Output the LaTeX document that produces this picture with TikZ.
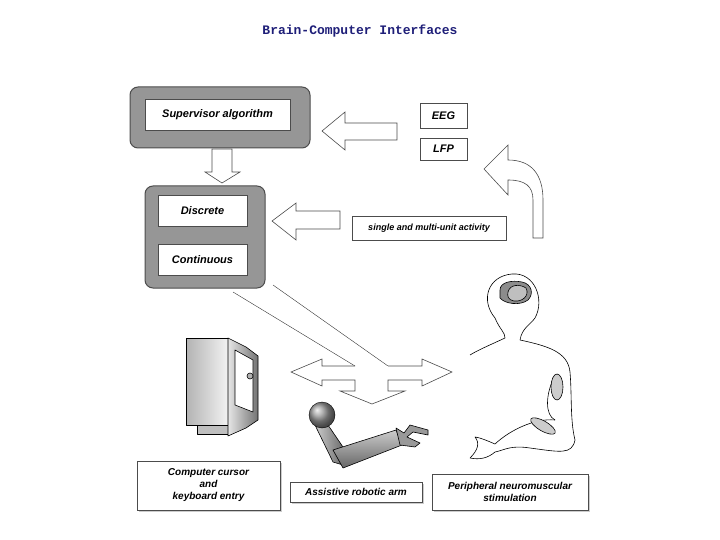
\documentclass[tikz,border=0pt]{standalone}
\usepackage{fontspec}
\setmainfont{Liberation Sans}
\newfontfamily\titlefont{Liberation Mono}
\usetikzlibrary{shadows}
\definecolor{boxgray}{RGB}{150,150,150}
\definecolor{titleblue}{RGB}{30,30,120}
\tikzset{
  outerbox/.style={draw=black!70,line width=1pt,fill=boxgray,rounded corners=8pt},
  innerbox/.style={draw=black!70,fill=white,font=\bfseries\itshape\fontsize{11}{12}\selectfont,align=center},
  lbl/.style={draw=black!70,fill=white,font=\bfseries\itshape\fontsize{10}{12}\selectfont,align=center,drop shadow={shadow xshift=2pt,shadow yshift=-2pt,fill=black!40}},
  hollow/.style={draw=black!70,fill=white,line width=0.6pt},
  figline/.style={draw=black,line width=0.6pt,line join=round}
}
\begin{document}
\begin{tikzpicture}[x=1pt,y=-1pt]
\useasboundingbox (0,0) rectangle (720,540);
\node[font=\titlefont\bfseries\fontsize{13}{15}\selectfont,text=titleblue] (title) at (360,31) {Brain-Computer Interfaces};
% supervisor
\draw[outerbox] (130,87) rectangle (310,148);
\node[innerbox,minimum width=145pt,minimum height=31pt] (sup) at (217.5,114.5) {Supervisor algorithm};
% down arrow
\draw[hollow] (212,149) -- (232,149) -- (232,172) -- (240,172) -- (222,183) -- (205,172) -- (212,172) -- cycle;
% discrete/continuous
\draw[outerbox] (145,186) rectangle (265,288);
\node[innerbox,minimum width=89pt,minimum height=31pt] (disc) at (202.5,210.5) {Discrete};
\node[innerbox,minimum width=89pt,minimum height=31pt] (cont) at (202.5,259.5) {Continuous};
% left arrows
\draw[hossow/.style={},hollow] (397,123) -- (345,123) -- (345,112) -- (322,131) -- (345,150) -- (345,140) -- (397,140) -- cycle;
\draw[hollow] (340,211) -- (296,211) -- (296,203) -- (272,221) -- (296,240) -- (296,229) -- (340,229) -- cycle;
% EEG LFP
\node[draw=black!70,fill=white,font=\bfseries\itshape\fontsize{11}{12}\selectfont,minimum width=47pt,minimum height=25pt] (eeg) at (443.5,115.5) {EEG};
\node[draw=black!70,fill=white,font=\bfseries\itshape\fontsize{11}{12}\selectfont,minimum width=47pt,minimum height=22pt] (lfp) at (443.5,149) {LFP};
\node[draw=black!70,fill=white,font=\bfseries\itshape\fontsize{9}{11}\selectfont,minimum width=154pt,minimum height=24pt] (single) at (429,228) {single and multi-unit activity};
% curved arrow
\draw[hollow] (533,238) -- (533,200) .. controls (533,186) and (525,180) .. (508,180) -- (508,195) -- (484,169) -- (508,145) -- (508,160) .. controls (532,160) and (543,175) .. (543,200) -- (543,238) -- cycle;
% diagonal lines
\coordinate (d1) at (233,292); \coordinate (d2) at (355,366);
\coordinate (d3) at (273,285); \coordinate (d4) at (388,366);
\draw[black!80] (d1) -- (d2);
\draw[black!80] (d3) -- (d4);
% three-way arrow
\draw[hollow] (355,366) -- (322,366) -- (322,359) -- (291,372) -- (322,386) -- (322,380) -- (355,380) -- (355,391) -- (340,391) -- (372,404) -- (405,391) -- (388,391) -- (388,380) -- (422,380) -- (422,386) -- (452,372) -- (422,359) -- (422,366) -- (388,366);
% monitor
\draw[figline,fill=black!25] (197,425) rectangle (230,434);
\draw[figline,left color=black!30,right color=black!5] (186,338) rectangle (228,425);
\draw[figline,left color=black!10,right color=black!55] (228,338) -- (246,347) -- (258,356) -- (258,420) -- (246,428) -- (228,436) -- cycle;
\draw[figline,fill=white] (235,350) -- (253,360) -- (253,412) -- (235,405) -- cycle;
\draw[figline,fill=black!30] (250,376) circle (3);
% robotic arm
\draw[figline,left color=black!20,right color=black!60] (315,425) -- (328,425) -- (345,450) -- (343,465) -- (333,462) -- cycle;
\draw[figline,top color=black!20,bottom color=black!60] (333,450) -- (396,430) -- (402,445) -- (343,468) -- cycle;
\draw[figline,fill=black!40] (396,428) -- (404,433) -- (410,425) -- (428,430) -- (428,435) -- (413,432) -- (407,437) -- (420,443) -- (415,447) -- (400,445) -- cycle;
\shade[ball color=black!40,draw=black] (322,415) circle (13);
% human
\draw[figline] (495,318) .. controls (480,300) and (488,276) .. (512,274) .. controls (535,272) and (545,300) .. (535,318) .. controls (530,325) and (522,328) .. (520,340);
\draw[figline] (495,318) .. controls (500,330) and (505,332) .. (505,338) .. controls (490,345) and (478,350) .. (470,355);
\draw[figline] (520,340) .. controls (548,346) and (568,352) .. (570,372) .. controls (572,395) and (570,420) .. (575,440) .. controls (572,455) and (560,452) .. (530,448) .. controls (510,445) and (505,450) .. (495,452) .. controls (488,458) and (480,460) .. (470,458);
\draw[figline] (555,375) .. controls (545,395) and (545,415) .. (555,420);
\draw[figline] (470,458) .. controls (478,450) and (480,443) .. (475,437) .. controls (482,438) and (490,442) .. (495,444) .. controls (510,430) and (535,418) .. (555,420);
\draw[figline,fill=black!20] (557,387) ellipse (6 and 13);
\draw[figline,fill=black!20,rotate around={-30:(543,426)}] (543,426) ellipse (14 and 5);
\draw[figline,fill=black!45] (500,290) .. controls (500,282) and (512,280) .. (522,282) .. controls (532,284) and (534,294) .. (528,300) .. controls (520,306) and (505,304) .. (500,298) -- cycle;
\draw[figline,fill=black!25] (508,292) .. controls (510,284) and (520,284) .. (526,288) .. controls (530,296) and (522,302) .. (514,301) .. controls (508,300) and (507,296) .. (508,292) -- cycle;
% bottom labels
\node[lbl,minimum width=143pt,minimum height=49pt] (comp) at (208.5,485.5) {Computer cursor\\and\\keyboard entry};
\node[lbl,minimum width=132pt,minimum height=20pt] (robot) at (356,492) {Assistive robotic arm};
\node[lbl,minimum width=156pt,minimum height=36pt] (periph) at (510,492) {Peripheral neuromuscular\\stimulation};
\end{tikzpicture}
\end{document}
